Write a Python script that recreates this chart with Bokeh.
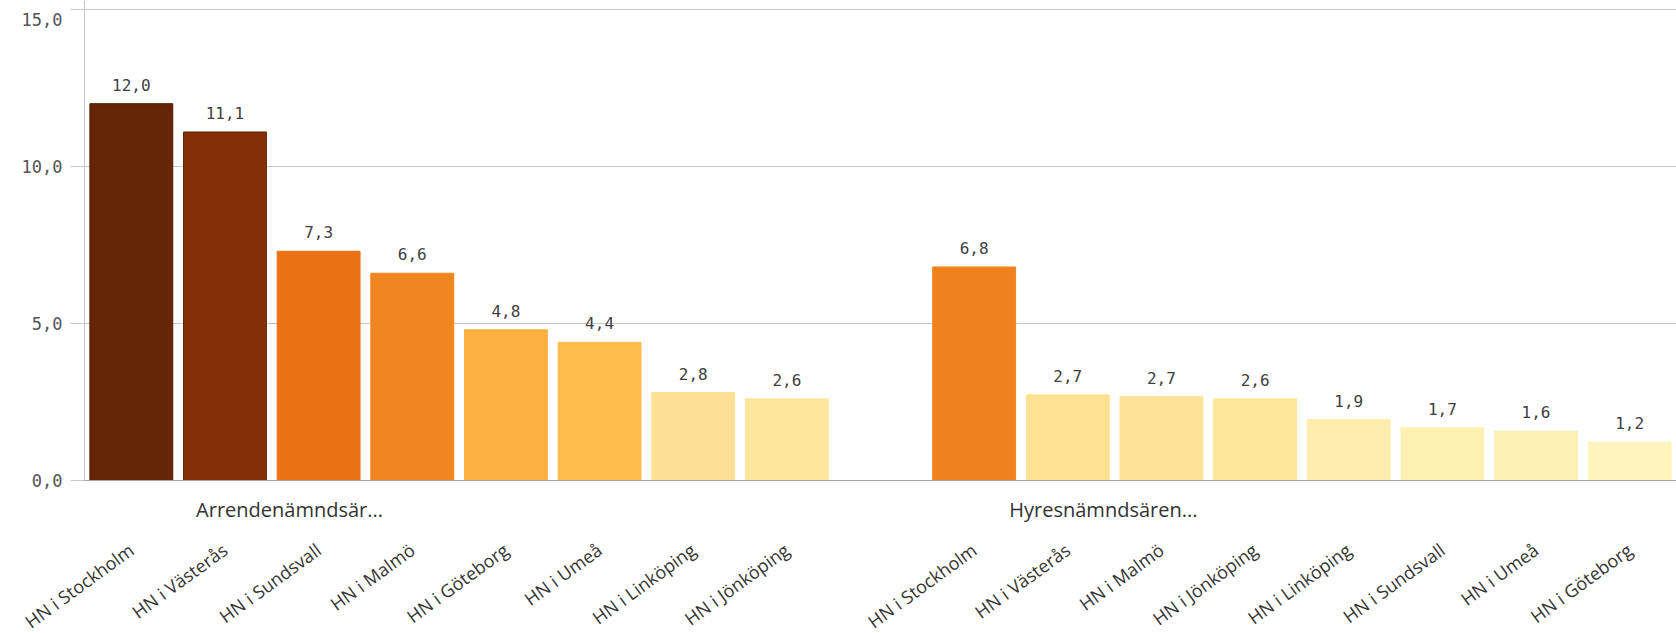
from bokeh.plotting import figure
from bokeh.models import Range1d, ColumnDataSource
from bokeh.core.properties import value
from bokeh.embed import file_html
from bokeh.resources import INLINE

# ---- data ----
groups = ["Arrendenämndsär...", "Hyresnämndsären..."]
cities_arr = ["HN i Stockholm", "HN i Västerås", "HN i Sundsvall", "HN i Malmö",
              "HN i Göteborg", "HN i Umeå", "HN i Linköping", "HN i Jönköping"]
values_arr = [12.0, 11.1, 7.3, 6.6, 4.8, 4.4, 2.8, 2.6]
colors_arr = ["#662506", "#842f06", "#ec7014", "#f0861f",
              "#fbb040", "#febc4e", "#fde093", "#fee59e"]
cities_hyr = ["HN i Stockholm", "HN i Västerås", "HN i Malmö", "HN i Jönköping",
              "HN i Linköping", "HN i Sundsvall", "HN i Umeå", "HN i Göteborg"]
values_hyr = [6.8, 2.73, 2.67, 2.6, 1.94, 1.68, 1.57, 1.22]
colors_hyr = ["#f0821e", "#fde294", "#fde398", "#fde599",
              "#feedac", "#fef0b0", "#fef0b3", "#fff4bc"]
y_ticks = [0, 5, 10, 15]

# ---- layout of slots: 8 bars, one empty slot, 8 bars ----
xs = list(range(len(values_arr))) + [len(values_arr) + 1 + i for i in range(len(values_hyr))]
cities = cities_arr + cities_hyr
vals = values_arr + values_hyr
cols = colors_arr + colors_hyr


def darker(c, f=0.75):
    r, g, b = int(c[1:3], 16), int(c[3:5], 16), int(c[5:7], 16)
    return "#%02x%02x%02x" % (int(r * f), int(g * f), int(b * f))


lines = [darker(c) if i in (0, 1) else c for i, c in enumerate(cols)]
labels = [f"{v:.1f}".replace(".", ",") for v in vals]

src = ColumnDataSource(dict(x=xs, top=vals, color=cols, line=lines, label=labels,
                            city=cities, zero=[0] * len(xs)))

# ---- geometry: the frame fills the whole canvas, axes are drawn by hand ----
W, H = 1676, 633
AXIS_PX = 84          # left edge of the plotting area
ZERO_PX = 480         # pixel row of the value 0
TOP_PX = 9            # pixel row of the top tick
PX_PER_UNIT = 31.4
SLOT_PX = (W - AXIS_PX) / (xs[-1] + 1)
X_LEFT = -0.5         # data x of the value axis
X_START = X_LEFT - AXIS_PX / SLOT_PX
X_END = xs[-1] + 0.5
Y_END = max(y_ticks) + TOP_PX / PX_PER_UNIT
Y_BOTTOM = -(H - ZERO_PX) / PX_PER_UNIT
TICK_LEN = 14 / SLOT_PX

p = figure(width=W, height=H,
           x_range=Range1d(X_START, X_END), y_range=Range1d(Y_BOTTOM, Y_END),
           output_backend="svg", toolbar_location=None,
           min_border_left=0, min_border_right=0, min_border_top=0,
           min_border_bottom=0)
p.outline_line_color = None
p.background_fill_color = "white"
p.xaxis.visible = False
p.yaxis.visible = False
p.xgrid.visible = False
p.ygrid.visible = False

# grid lines (with their outer tick part)
p.segment(x0=[X_LEFT - TICK_LEN] * len(y_ticks), x1=[X_END] * len(y_ticks),
          y0=y_ticks, y1=y_ticks, line_color="#c8c8c8", line_width=1)
# value axis line
p.segment(x0=[X_LEFT], x1=[X_LEFT], y0=[0], y1=[Y_END],
          line_color="#c4c4c4", line_width=1)
# value axis labels
tick_src = ColumnDataSource(dict(
    y=y_ticks,
    x=[X_LEFT] * len(y_ticks),
    t=[f"{t:.1f}".replace(".", ",") for t in y_ticks],
    off=[10 if t == max(y_ticks) else 0 for t in y_ticks]))
p.text(x="x", y="y", text="t", x_offset=-22, y_offset="off", text_align="right",
       text_baseline="middle", text_font=value("DejaVu Sans Mono"),
       text_font_size="17px", text_color="#555555", source=tick_src)

# bars
p.vbar(x="x", top="top", bottom=0, width=0.885, fill_color="color", line_color="line",
       line_width=1, source=src)
# category axis line
p.segment(x0=[X_LEFT], x1=[X_END], y0=[0], y1=[0], line_color="#a6a6a6", line_width=1)
# value labels
p.text(x="x", y="top", text="label", text_align="center", text_baseline="bottom",
       y_offset=-13, text_font=value("DejaVu Sans Mono"), text_font_size="16px",
       text_color="#404040", source=src)

# group labels just under the baseline
g_pos = [1.69, 10.38]
p.text(x=g_pos, y=[0, 0], text=groups, text_align="center", text_baseline="middle",
       y_offset=29, text_font=value("Open Sans"), text_font_size="20px",
       text_color="#333333")

# rotated category labels
p.text(x="x", y="zero", text="city", angle=0.63, text_align="right",
       text_baseline="middle", y_offset=67, text_font=value("Open Sans"),
       text_font_size="18px", text_color="#333333", source=src)

open("out.html", "w").write(file_html(p, INLINE))
